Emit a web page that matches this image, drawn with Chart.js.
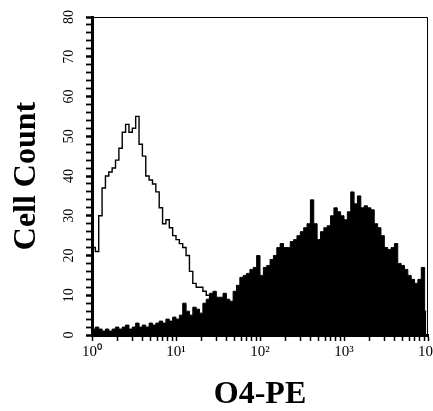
<!DOCTYPE html>
<html>
<head>
<meta charset="utf-8">
<script src="https://cdn.jsdelivr.net/npm/chart.js@4.4.1/dist/chart.umd.min.js"></script>
<style>
  html, body { margin: 0; padding: 0; background: #fff; }
  canvas { display: block; }
</style>
</head>
<body>
<canvas id="histO4" width="433" height="411"></canvas>
<script>
// histogram channels, 0.04 decade each, from 10^0 to 10^4
var binWidth = 0.04;

// isotype control (open outline)
var controlCounts = [
  22, 21, 30, 37, 40, 41, 42, 44, 47, 51,
  53, 51, 52, 55, 48, 45, 40, 39, 38, 36,
  32, 28, 29, 27, 25, 24, 23, 22, 20, 16,
  13, 12, 12, 11, 10, 9, 7, 5, 3, 2,
  1, 1, 1, 0, 1, 0, 0, 0, 0, 0,
  0, 0, 0, 0, 0, 0, 0, 0, 0, 0,
  0, 0, 0, 0, 0, 0, 0, 0, 0, 0,
  0, 0, 0, 0, 0, 0, 0, 0, 0, 0,
  0, 0, 0, 0, 0, 0, 0, 0, 0, 0,
  0, 0, 0, 0, 0, 0, 0, 0, 0, 0
];

// O4-PE stained cells (filled)
var o4Counts = [
  1.5, 2, 1.5, 1, 1.5, 1, 1.5, 2, 1.5, 2,
  2.5, 1.5, 2, 3, 2, 2.5, 2, 3, 2.5, 3,
  3.5, 3, 4, 3.5, 4.5, 4, 5, 8, 6, 5,
  7, 6.5, 5.5, 8, 9, 10.5, 11, 9.5, 9.5, 10.5,
  9, 8.5, 11, 12.5, 14.5, 15, 15.5, 16.5, 17, 20,
  15, 17, 17.5, 19, 20, 22, 23, 22, 22, 23.5,
  24, 25, 26, 27, 28, 34, 28, 24, 26, 27,
  27.5, 30, 32, 31, 30, 29, 31, 36, 33, 35,
  32, 32.5, 32, 31.5, 28, 27, 25, 22, 21.5, 22,
  23, 18, 17.5, 16.5, 15, 14, 13, 14, 17, 6
];

var decadeLabels = ["10\u2070", "10\u00b9", "10\u00b2", "10\u00b3", "10\u2074"];
var countTicks = [0, 10, 20, 30, 40, 50, 60, 70, 80];
var countMinorStep = 2;

function toPoints(counts) {
  return counts.map(function (c, i) {
    return { x: binWidth * (i + 0.5), y: c };
  });
}

var axisExtras = {
  id: "axisExtras",
  afterDraw: function (chart) {
    var ctx = chart.ctx;
    var area = chart.chartArea;
    var yScale = chart.scales.y;
    ctx.save();
    // thin frame on top and right
    ctx.strokeStyle = "#000";
    ctx.lineWidth = 1;
    ctx.beginPath();
    ctx.moveTo(area.left, area.top + 0.5);
    ctx.lineTo(area.right - 0.5, area.top + 0.5);
    ctx.lineTo(area.right - 0.5, area.bottom);
    ctx.stroke();
    // rotated count labels
    ctx.fillStyle = "#000";
    ctx.font = "14px 'Liberation Serif'";
    ctx.textAlign = "center";
    ctx.textBaseline = "middle";
    countTicks.forEach(function (v) {
      ctx.save();
      ctx.translate(yScale.right - 23, yScale.getPixelForValue(v));
      ctx.rotate(-Math.PI / 2);
      ctx.fillText(String(v), 0, 0);
      ctx.restore();
    });
    ctx.restore();
  }
};

var histCanvas = document.getElementById("histO4");

var histChart = new Chart(histCanvas, {
  type: "line",
  data: {
    datasets: [
      {
        label: "Control",
        data: toPoints(controlCounts),
        fill: false,
        borderColor: "#000",
        borderWidth: 1.4,
        pointRadius: 0,
        stepped: "middle",
      },
      {
        label: "O4-PE",
        data: toPoints(o4Counts),
        fill: "origin",
        backgroundColor: "#000",
        borderColor: "#000",
        borderWidth: 1,
        pointRadius: 0,
        stepped: "middle",
      },
    ],
  },
  options: {
    responsive: false,
    animation: false,
    layout: { padding: { top: 17, right: 5, left: 0, bottom: 0 } },
    plugins: {
      legend: { display: false },
      tooltip: { enabled: false },
    },
    scales: {
      x: {
        type: "linear",
        min: 0,
        max: 4,
        afterBuildTicks: function (scale) {
          var ticks = [];
          for (var k = 0; k < 4; k++) {
            for (var m = 1; m < 10; m++) ticks.push({ value: k + Math.log10(m) });
          }
          ticks.push({ value: 4 });
          scale.ticks = ticks;
        },
        afterFit: function (scale) {
          scale.height = 76;
          scale.paddingLeft = 0;
          scale.paddingRight = 0;
        },
        ticks: {
          autoSkip: false,
          maxRotation: 0,
          padding: 2,
          color: "#000",
          font: { family: "'Liberation Serif'", size: 15 },
          callback: function (value) {
            var r = Math.round(value);
            return Math.abs(value - r) < 1e-9 ? decadeLabels[r] : "";
          },
        },
        grid: {
          drawOnChartArea: false,
          drawTicks: true,
          tickLength: 6,
          tickWidth: 1.5,
          tickColor: "#000",
        },
        border: { display: true, width: 3, color: "#000" },
        title: {
          display: true,
          text: "O4-PE",
          color: "#000",
          font: { family: "'Liberation Serif'", size: 32, weight: "bold", lineHeight: 1 },
          padding: { top: 0, bottom: 0 },
        },
      },
      y: {
        min: 0,
        max: 80,
        afterBuildTicks: function (scale) {
          var ticks = [];
          for (var v = 0; v <= 80; v += countMinorStep) ticks.push({ value: v });
          scale.ticks = ticks;
        },
        afterFit: function (scale) { scale.width = 92; },
        ticks: { display: false, autoSkip: false },
        grid: {
          drawOnChartArea: false,
          drawTicks: true,
          tickLength: 6,
          tickWidth: function (c) { return c.tick && c.tick.value % 10 === 0 ? 2.5 : 1.8; },
          tickColor: "#000",
        },
        border: { display: true, width: 3, color: "#000" },
        title: {
          display: true,
          text: "Cell Count",
          color: "#000",
          font: { family: "'Liberation Serif'", size: 32, weight: "bold" },
          padding: { top: 8, bottom: 0 },
        },
      },
    },
  },
  plugins: [axisExtras],
});
</script>
</body>
</html>
